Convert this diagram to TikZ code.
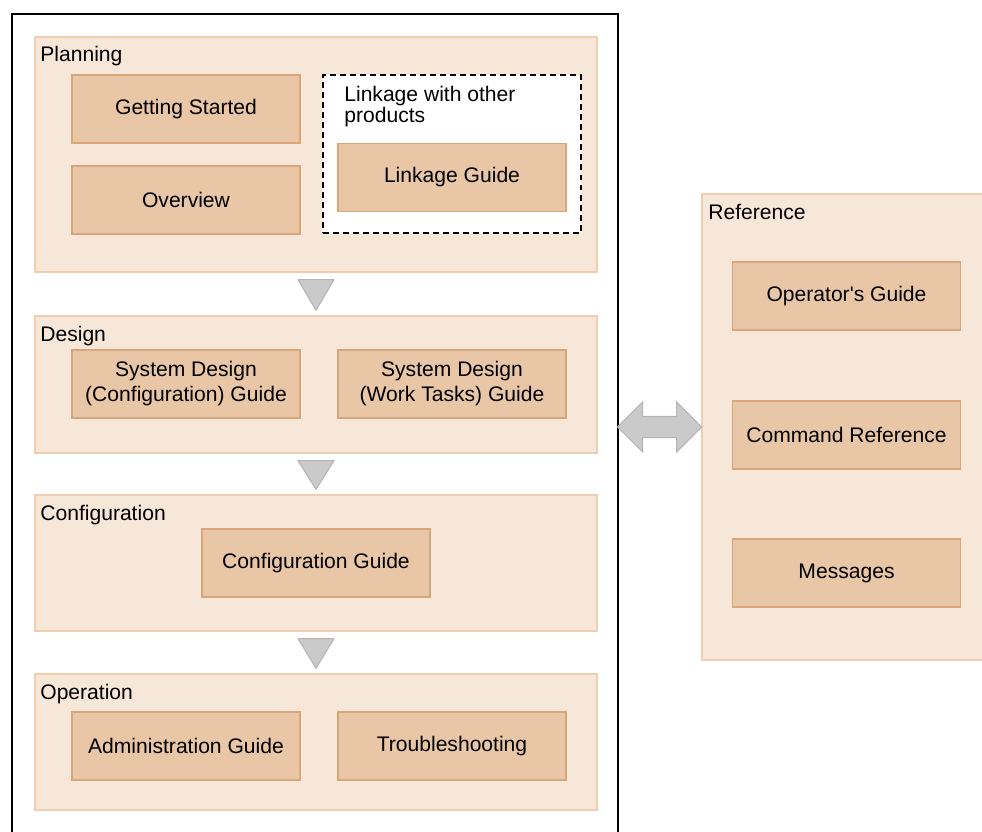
\documentclass[tikz,border=0pt]{standalone}
\usepackage{fontspec}
\setmainfont{Liberation Sans}
\usepackage{xcolor}
\usetikzlibrary{positioning, shapes.arrows, calc}

\definecolor{phasefill}{HTML}{F6E7D8}
\definecolor{phaseline}{HTML}{F1CEB0}
\definecolor{bookfill}{HTML}{E9C6A6}
\definecolor{bookline}{HTML}{D9A67C}
\definecolor{flowfill}{HTML}{CACACA}
\definecolor{flowline}{HTML}{B5B5B5}

\begin{document}
\begin{tikzpicture}[
    x=0.02cm, y=-0.02cm,
    every node/.style={font=\fontsize{12}{14.4}\selectfont},
    phase/.style={rectangle, draw=phaseline, fill=phasefill, line width=0.8pt, minimum width=11.24cm, inner sep=0},
    phasename/.style={anchor=base west, inner sep=0},
    book/.style={rectangle, draw=bookline, fill=bookfill, line width=0.8pt, minimum width=4.56cm, minimum height=1.36cm, align=center, inner sep=0, font=\fontsize{12}{14.2}\selectfont},
    flow/.style={draw=flowline, fill=flowfill, line width=0.6pt, line join=round},
    linkarrow/.style={double arrow, draw=flowline, fill=flowfill, line width=0.6pt, inner xsep=0, inner ysep=0.2cm, minimum height=1.68cm, double arrow head extend=0.29cm}
]
    \path[use as bounding box, clip] (0,0) rectangle (982,831);

    % Frame
    \draw[line width=1.1pt] (12,841) -- (12,14) -- (618,14) -- (618,841);

    % Phases
    \node[phase, minimum height=4.7cm] (planning) at (316,154.5) {};
    \node[phase, minimum height=2.74cm] (design) at (316,384.5) {};
    \node[phase, minimum height=2.72cm] (configuration) at (316,563) {};
    \node[phase, minimum height=2.72cm] (operation) at (316,742) {};
    \node[phase, minimum width=6.8cm, minimum height=9.32cm] (reference) at (872,427) {};

    \node[phasename] (planningname) at (40,62) {Planning};
    \node[phasename] (designname) at (40,341) {Design};
    \node[phasename] (configurationname) at (40,520) {Configuration};
    \node[phasename] (operationname) at (40,699) {Operation};
    \node[phasename] (referencename) at (708,219) {Reference};

    % Manuals
    \node[book] (gettingstarted) at (186,109) {Getting Started};
    \node[book] (overview) at (186,200) {Overview};
    \node[rectangle, draw=black, fill=white, dashed, dash pattern=on 3.4pt off 2.3pt, line width=0.8pt, minimum width=5.16cm, minimum height=3.16cm] (linkagebox) at (452,154) {};
    \node[anchor=north west, inner sep=0, align=left, font=\fontsize{12}{11.95}\selectfont] (linkagename) at (344,86) {Linkage with other\\products};
    \node[book] (linkageguide) at (452,177.5) {Linkage Guide};

    \node[book] (sysconfig) at (186,384) {System Design\\(Configuration) Guide};
    \node[book] (syswork) at (452,384) {System Design\\(Work Tasks) Guide};

    \node[book] (configguide) at (316,563) {Configuration Guide};

    \node[book] (adminguide) at (186,746) {Administration Guide};
    \node[book] (trouble) at (452,746) {Troubleshooting};

    \node[book] (opguide) at (846.5,296) {Operator\textquotesingle s Guide};
    \node[book] (cmdref) at (846.5,435) {Command Reference};
    \node[book] (messages) at (846.5,573) {Messages};

    % Connections
    \draw[flow] ($(planning.south)+(-18,7)$) -- ($(planning.south)+(18,7)$) -- ($(design.north)+(0,-5)$) -- cycle;
    \draw[flow] ($(design.south)+(-18,7)$) -- ($(design.south)+(18,7)$) -- ($(configuration.north)+(0,-5)$) -- cycle;
    \draw[flow] ($(configuration.south)+(-18,7)$) -- ($(configuration.south)+(18,7)$) -- ($(operation.north)+(0,-5)$) -- cycle;
    \node[linkarrow] (link) at ($(618,427)!0.5!(reference.west)$) {};
\end{tikzpicture}
\end{document}
